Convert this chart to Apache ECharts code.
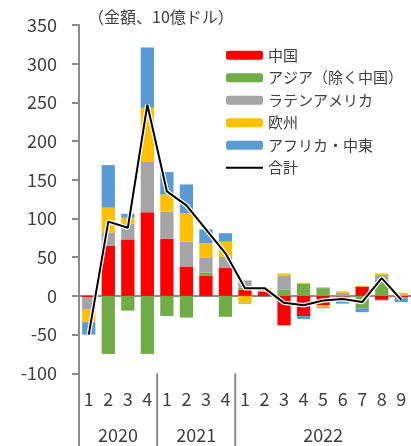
<!DOCTYPE html>
<html>
<head>
<meta charset="utf-8">
<script src="https://cdn.jsdelivr.net/npm/echarts@6/dist/echarts.min.js"></script>
<style>
  html, body { margin: 0; padding: 0; background: #fff; }
  #chart { width: 411px; height: 446px; }
</style>
</head>
<body>
<div id="chart"></div>
<script>
// Quarter / month labels along the bottom, and the year group each belongs to
const periods = ['1','2','3','4','1','2','3','4','1','2','3','4','5','6','7','8','9'];
const years = ['2020', '2021', '2022'];
const yearSpans = [4, 4, 9];

// Flows by region (billion USD)
const china  = [-2, 65, 73, 108, 74, 38, 26, 36, 8, 5, -38, -26, -12, -1, 12, -5, -2];
const asia   = [0, -75, -19, -75, -26, -28, 4, -27, 3, 1, 8, 16, 10, -6, -16, 21, -1];
const latam  = [-15, 17, 20, 65, 35, 32, 19, 15, 9, 3, 18, 0, 1, 4, 0, 6, 2];
const europe = [-17, 32, 8, 70, 22, 37, 19, 19, -9, 1, 3, 1, -3, 2, 1, 2, 2];
const africa = [-16, 55, 5, 78, 29, 37, 18, 11, -1, 0, 0, -4, -1, -3, -5, -1, -5];
const total  = [-50, 96, 88, 247, 135, 117, 86, 55, 10, 10, -9, -12, -6, -4, -8, 23, -5];

const names = ['中国', 'アジア（除く中国）', 'ラテンアメリカ', '欧州', 'アフリカ・中東', '合計'];
const colors = ['#FF0000', '#70AD47', '#A5A5A5', '#FFC000', '#5B9BD5'];

const TEXT = '#404040';
const AXIS = '#8C8C8C';
const FONT = '"Noto Sans CJK JP", "Noto Sans", sans-serif';
const LINE_ICON = 'path://M0,0L37,0L37,2L0,2Z';

const chart = echarts.init(document.getElementById('chart'), null, { renderer: 'canvas' });

const barSeries = [china, asia, latam, europe, africa].map((d, i) => ({
  name: names[i],
  type: 'bar',
  stack: 'flow',
  xAxisIndex: 0,
  data: d,
  barWidth: '68%',
  itemStyle: { color: colors[i] },
  emphasis: { disabled: true }
}));

const option = {
  animation: false,
  textStyle: { fontFamily: FONT, color: TEXT },
  grid: { left: 79, right: -3, top: 25, bottom: 72.7, containLabel: false },
  legend: {
    orient: 'vertical',
    left: 221,
    top: 39,
    itemWidth: 37,
    itemHeight: 9,
    itemGap: 0,
    symbolKeepAspect: true,
    data: names.map(n => (n === '合計' ? { name: n, icon: LINE_ICON } : n)),
    textStyle: { fontSize: 15, color: TEXT, lineHeight: 22.5, fontFamily: FONT }
  },
  xAxis: [
    {
      type: 'category',
      data: periods,
      axisLine: { onZero: true, lineStyle: { color: AXIS, width: 2 } },
      axisTick: { show: false },
      axisLabel: { show: false },
      splitLine: { show: false }
    },
    {
      type: 'category',
      data: periods,
      position: 'bottom',
      axisLine: { onZero: false, show: false },
      axisTick: { show: false },
      axisLabel: { show: true, fontSize: 18, color: TEXT, margin: 17, fontFamily: FONT },
      splitLine: { show: false }
    }
  ],
  yAxis: {
    type: 'value',
    min: -100,
    max: 350,
    interval: 50,
    axisLine: { show: true, lineStyle: { color: AXIS, width: 2 } },
    axisTick: { show: true, length: 7, lineStyle: { color: AXIS, width: 2 } },
    axisLabel: { fontSize: 18, color: TEXT, margin: 22, fontFamily: FONT },
    splitLine: { show: false }
  },
  series: barSeries.concat([
    {
      // white halo under the total line
      name: '合計-halo',
      type: 'line',
      data: total,
      symbol: 'none',
      silent: true,
      lineStyle: { color: '#FFFFFF', width: 4.5 },
      z: 3
    },
    {
      name: '合計',
      type: 'line',
      data: total,
      symbol: 'none',
      itemStyle: { color: '#000000' },
      lineStyle: { color: '#000000', width: 2 },
      z: 4
    }
  ]),
  graphic: [
    {
      type: 'text',
      left: 88,
      top: 9,
      style: { text: '（金額、10億ドル）', font: '16px ' + FONT, fill: TEXT }
    }
  ]
};

chart.setOption(option);

// Year groups: separators and centred year labels below the period labels
const px0 = chart.convertToPixel({ xAxisIndex: 0 }, 0);
const px1 = chart.convertToPixel({ xAxisIndex: 0 }, 1);
const band = px1 - px0;
const yLow = chart.convertToPixel({ yAxisIndex: 0 }, -100);
const axisX = px0 - band / 2;
const H = 446;

const extra = [
  {
    type: 'line',
    shape: { x1: axisX, y1: yLow, x2: axisX, y2: H },
    style: { stroke: AXIS, lineWidth: 2 }
  }
];
let start = 0;
yearSpans.forEach((n, k) => {
  const first = chart.convertToPixel({ xAxisIndex: 0 }, start);
  const last = chart.convertToPixel({ xAxisIndex: 0 }, start + n - 1);
  const cx = (first + last) / 2;
  extra.push({
    type: 'text',
    x: cx,
    y: 435,
    style: { text: years[k], font: '18px ' + FONT, fill: TEXT, align: 'center', verticalAlign: 'middle' }
  });
  if (k < yearSpans.length - 1) {
    const bx = last + band / 2;
    extra.push({
      type: 'line',
      shape: { x1: bx, y1: yLow, x2: bx, y2: H },
      style: { stroke: AXIS, lineWidth: 2 }
    });
  }
  start += n;
});

chart.setOption({ graphic: option.graphic.concat(extra) });
</script>
</body>
</html>
